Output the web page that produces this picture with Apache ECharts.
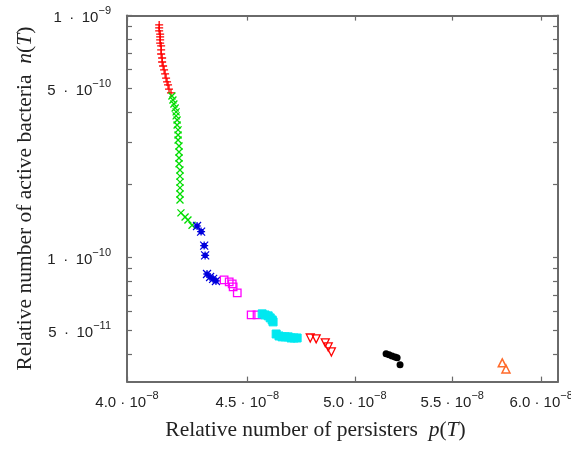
<!DOCTYPE html>
<html><head><meta charset="utf-8">
<script src="https://cdn.jsdelivr.net/npm/echarts@6/dist/echarts.min.js"></script>
<style>html,body{margin:0;padding:0;background:#fff}#c{width:571px;height:454px}</style>
</head><body><div id="c"></div>
<script>
// x values in units of 1e-8, y values in units of 1e-10
const xTicks = [4.0, 4.5, 5.0, 5.5, 6.0];
const yLabelTicks = [10, 5, 1, 0.5];
const yMinorTicks = [10, 9, 8, 7, 6, 5, 4, 3, 2, 1, 0.9, 0.8, 0.7, 0.6, 0.5, 0.4];

const redX = [4.128,4.128,4.128,4.132,4.132,4.132,4.132,4.136,4.136,4.136,4.14,4.14,4.144,4.148,4.152,4.156,4.16,4.164,4.168,4.176];
const redY = [9.15,8.89,8.64,8.39,8.16,7.93,7.70,7.49,7.21,6.94,6.68,6.43,6.19,5.96,5.74,5.52,5.32,5.17,4.97,4.79];
const greenX = [4.180,4.184,4.188,4.193,4.197,4.197,4.201,4.201,4.205,4.205,4.205,4.209,4.209,4.209,4.209,4.213,4.213,4.213,4.213,4.213,4.213,4.217,4.234,4.246,4.263];
const greenY = [4.65,4.48,4.31,4.15,4.00,3.85,3.70,3.53,3.37,3.21,3.06,2.89,2.73,2.58,2.44,2.30,2.17,2.05,1.94,1.83,1.73,1.53,1.47,1.43,1.36];
const blueX = [4.284,4.301,4.314,4.318,4.326,4.339,4.352,4.364];
const blueY = [1.35,1.28,1.12,1.02,0.855,0.831,0.816,0.800];
const magX = [4.399,4.421,4.434,4.438,4.456,4.517,4.543];
const magY = [0.808,0.793,0.778,0.756,0.714,0.579,0.579];
const cyanX = [4.566,4.579,4.593,4.602,4.611,4.615,4.629,4.642,4.656,4.670,4.684,4.697,4.711,4.725];
const cyanY = [0.585,0.579,0.574,0.563,0.552,0.542,0.483,0.474,0.470,0.470,0.470,0.465,0.465,0.465];
const triX = [4.786,4.814,4.857,4.871,4.886];
const triY = [0.465,0.461,0.444,0.427,0.407];
const blackX = [5.155,5.170,5.185,5.200,5.211,5.226];
const blackY = [0.400,0.396,0.392,0.388,0.385,0.360];
const orangeX = [5.776,5.797];
const orangeY = [0.367,0.346];

const XS = 1e-8, YS = 1e-10;
function pts(xs, ys) { return xs.map((x, i) => [x * XS, ys[i] * YS]); }

const PLUS = 'path://M5,0L5,10M0,5L10,5';
const CROSS = 'path://M0,0L10,10M10,0L0,10';
const STAR = 'path://M2.5,2.5L7.5,2.5L7.5,7.5L2.5,7.5Z M0,0L10,10 M10,0L0,10 M5,0L5,10 M0,5L10,5';

const axisColor = '#6a6a6a';
const tickFont = 'Liberation Sans, Arial, sans-serif';
const nameFont = 'Liberation Serif, Times New Roman, serif';
const labelRich = {
  b: { fontFamily: tickFont, fontSize: 15, color: '#222', lineHeight: 20, verticalAlign: 'bottom' },
  s: { fontFamily: tickFont, fontSize: 11, color: '#222', lineHeight: 11, verticalAlign: 'top' }
};
function xFmt(v) {
  const m = (v / XS).toFixed(1);
  return '{b|' + m + ' · 10}{s|−8}';
}
function yFmt(v) {
  const e = Math.floor(Math.log10(v) + 1e-9);
  const m = Math.round(v / Math.pow(10, e));
  return '{b|' + m + '\u2002·\u200210}{s|−' + (-e) + '}';
}

const xTickVals = xTicks.map(v => v * XS);
const yLabelVals = yLabelTicks.map(v => v * YS);
const yTickVals = yMinorTicks.map(v => v * YS);

const xMin = 4.0e-8, xMax = 6.1e-8, yMin = 3.07e-11, yMax = 1e-9;

function baseAxis(extra) {
  return Object.assign({
    type: 'log', logBase: 10,
    axisLine: { show: true, onZero: false, lineStyle: { color: axisColor, width: 2 } },
    splitLine: { show: false },
    minorTick: { show: false },
    minorSplitLine: { show: false }
  }, extra);
}

function sc(data, symbol, size, color, fill, bw, rotate) {
  return {
    type: 'scatter', data: data, symbol: symbol, symbolSize: size,
    symbolRotate: rotate || 0,
    itemStyle: { color: fill, borderColor: color, borderWidth: bw, opacity: 1 },
    silent: true, emphasis: { disabled: true }
  };
}

const nameRich = {
  n: { fontFamily: nameFont, fontSize: 21.5, color: '#222' },
  i: { fontFamily: nameFont, fontSize: 21.5, color: '#222', fontStyle: 'italic' }
};

const chart = echarts.init(document.getElementById('c'), null, { renderer: 'canvas' });
chart.setOption({
  animation: false,
  backgroundColor: '#fff',
  grid: { left: 127, top: 15.6, width: 431, height: 366, outerBoundsMode: 'none', containLabel: false },
  xAxis: [
    baseAxis({
      position: 'bottom', min: xMin, max: xMax,
      axisTick: { show: true, inside: true, length: 5, customValues: xTickVals, lineStyle: { color: axisColor, width: 1.2 } },
      axisLabel: { show: true, customValues: xTickVals, formatter: xFmt, rich: labelRich, margin: 9, showMinLabel: true, showMaxLabel: true, hideOverlap: false },
      name: '{n|Relative number of persisters  }{i|p}{n|(}{i|T}{n|)}',
      nameLocation: 'middle', nameGap: 38,
      nameTextStyle: { padding: [0, 54, 0, 0], rich: nameRich }
    }),
    baseAxis({
      position: 'top', min: xMin, max: xMax,
      axisTick: { show: true, inside: true, length: 5, customValues: xTickVals, lineStyle: { color: axisColor, width: 1.2 } },
      axisLabel: { show: false }
    })
  ],
  yAxis: [
    baseAxis({
      position: 'left', min: yMin, max: yMax,
      axisTick: { show: true, inside: true, length: 5, customValues: yTickVals, lineStyle: { color: axisColor, width: 1.2 } },
      axisLabel: { show: true, customValues: yLabelVals, formatter: yFmt, rich: labelRich, margin: 16, showMinLabel: true, showMaxLabel: true, hideOverlap: false },
      name: '{n|Relative number of active bacteria  }{i|n}{n|(}{i|T}{n|)}',
      nameLocation: 'middle', nameGap: 89, nameRotate: 90,
      nameTextStyle: { rich: nameRich }
    }),
    baseAxis({
      position: 'right', min: yMin, max: yMax,
      axisTick: { show: true, inside: true, length: 5, customValues: yTickVals, lineStyle: { color: axisColor, width: 1.2 } },
      axisLabel: { show: false }
    })
  ],
  series: [
    sc(pts(redX, redY), PLUS, 8, '#ff0000', '#ff0000', 1.3),
    sc(pts(greenX, greenY), CROSS, 7, '#00dd00', '#00dd00', 1.3),
    sc(pts(blueX, blueY), STAR, 8, '#0000dd', '#0000dd', 1.2),
    sc(pts(magX, magY), 'rect', 7.5, '#ff00ff', 'rgba(0,0,0,0)', 1.3),
    sc(pts(cyanX, cyanY), 'rect', 8, '#00e8f0', '#00e8f0', 1),
    sc(pts(triX, triY), 'triangle', 8, '#ff0000', 'rgba(0,0,0,0)', 1.3, 180),
    sc(pts(blackX, blackY), 'circle', 7, '#000000', '#000000', 0),
    sc(pts(orangeX, orangeY), 'triangle', 8, '#ff6a2a', 'rgba(0,0,0,0)', 1.5)
  ]
});
</script></body></html>
